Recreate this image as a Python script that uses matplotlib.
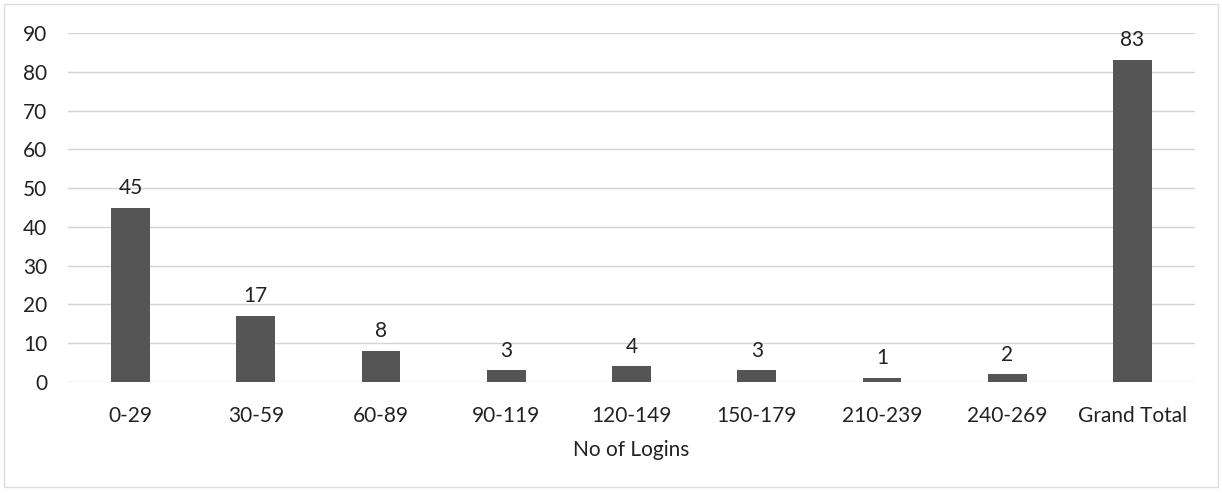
import matplotlib.pyplot as plt
from matplotlib.patches import Rectangle

plt.rcParams['font.family'] = ['Lato', 'DejaVu Sans']

categories = ["0-29", "30-59", "60-89", "90-119", "120-149", "150-179",
              "210-239", "240-269", "Grand Total"]
counts = [45, 17, 8, 3, 4, 3, 1, 2, 83]
yticks = [0, 10, 20, 30, 40, 50, 60, 70, 80, 90]

fig = plt.figure(figsize=(12.22, 4.93), dpi=100)
ax = fig.add_axes([68/1222, 1 - 382/493, (1195-68)/1222, (382-33)/493])

x = range(len(categories))
bars = ax.bar(x, counts, width=0.31, color="#555555", zorder=3)
for b, v in zip(bars, counts):
    ax.annotate(str(v), (b.get_x() + b.get_width()/2, v), xytext=(0, 7),
                textcoords="offset points", ha="center", va="bottom",
                fontsize=15, color="#222222")

ax.set_xlim(-0.5, 8.5)
ax.set_ylim(0, 90)
ax.set_yticks(yticks)
ax.set_xticks(list(x))
ax.set_xticklabels(categories)
ax.tick_params(axis="both", length=0, labelsize=15, colors="#222222")
ax.tick_params(axis="y", pad=15)
ax.tick_params(axis="x", pad=17)
ax.grid(axis="y", color="#d4d4d4", linewidth=1, zorder=0)
for s in ax.spines.values():
    s.set_visible(False)
ax.set_xlabel("No of Logins", fontsize=15, color="#222222", labelpad=10)

fig.patches.append(Rectangle((4/1222, 6/493), 1 - 8/1222, 1 - 10/493,
                             transform=fig.transFigure, fill=False,
                             edgecolor="#dcdcdc", linewidth=1))

fig.savefig("out.png", dpi=100)
